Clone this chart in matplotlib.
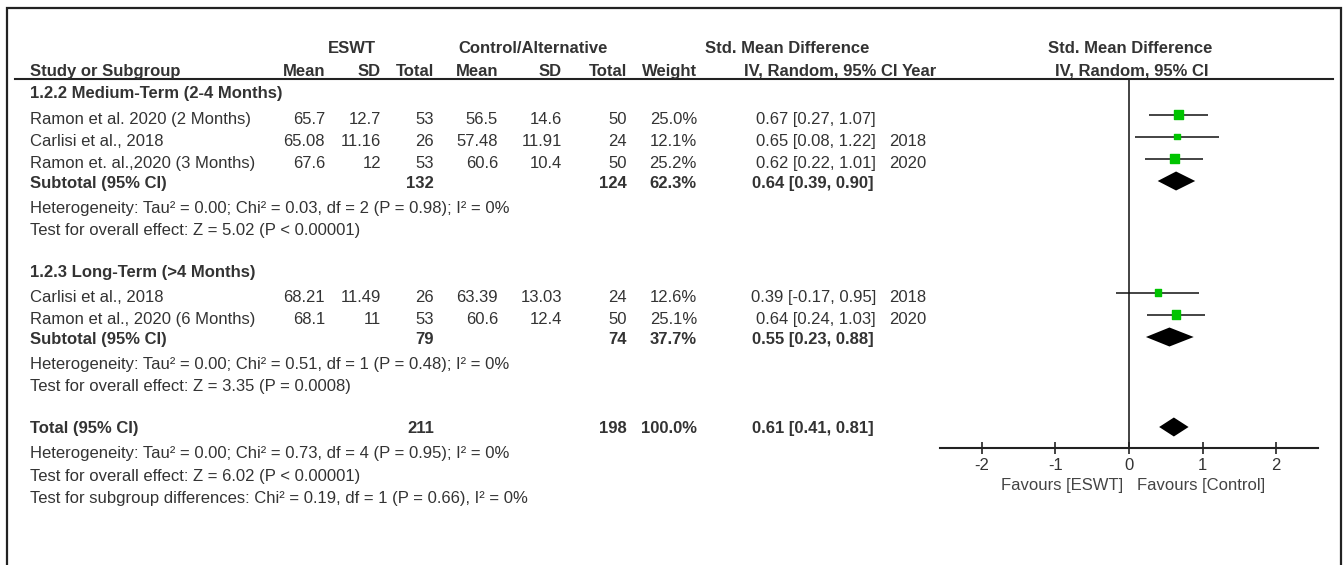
import matplotlib
matplotlib.use('Agg')
import matplotlib.pyplot as plt

plt.rcParams['font.family'] = ['Liberation Sans', 'DejaVu Sans']

# ---- data ----
studies = ['Ramon et al. 2020 (2 Months)', 'Carlisi et al., 2018', 'Ramon et. al.,2020 (3 Months)',
           'Carlisi et al., 2018', 'Ramon et al., 2020 (6 Months)']
group = [0, 0, 0, 1, 1]
e_mean = [65.7, 65.08, 67.6, 68.21, 68.1]
e_sd = [12.7, 11.16, 12, 11.49, 11]
e_n = [53, 26, 53, 26, 53]
c_mean = [56.5, 57.48, 60.6, 63.39, 60.6]
c_sd = [14.6, 11.91, 10.4, 13.03, 12.4]
c_n = [50, 24, 50, 24, 50]
weight = [25.0, 12.1, 25.2, 12.6, 25.1]
smd = [0.67, 0.65, 0.62, 0.39, 0.64]
smd_lo = [0.27, 0.08, 0.22, -0.17, 0.24]
smd_hi = [1.07, 1.22, 1.01, 0.95, 1.03]
year = ['', '2018', '2020', '2018', '2020']

subgroups = ['1.2.2 Medium-Term (2-4 Months)', '1.2.3 Long-Term (>4 Months)']
sub_e_n = [132, 79]
sub_c_n = [124, 74]
sub_w = [62.3, 37.7]
sub_smd = [0.64, 0.55]
sub_lo = [0.39, 0.23]
sub_hi = [0.90, 0.88]
sub_het = ['Heterogeneity: Tau² = 0.00; Chi² = 0.03, df = 2 (P = 0.98); I² = 0%',
           'Heterogeneity: Tau² = 0.00; Chi² = 0.51, df = 1 (P = 0.48); I² = 0%']
sub_z = ['Test for overall effect: Z = 5.02 (P < 0.00001)',
         'Test for overall effect: Z = 3.35 (P = 0.0008)']

tot_e_n, tot_c_n, tot_w = 211, 198, 100.0
tot_smd, tot_lo, tot_hi = 0.61, 0.41, 0.81
tot_notes = ['Heterogeneity: Tau² = 0.00; Chi² = 0.73, df = 4 (P = 0.95); I² = 0%',
             'Test for overall effect: Z = 6.02 (P < 0.00001)',
             'Test for subgroup differences: Chi² = 0.19, df = 1 (P = 0.66), I² = 0%']

xticks = [-2, -1, 0, 1, 2]
fav_left, fav_right = 'Favours [ESWT]', 'Favours [Control]'

# ---- layout (pixels) ----
W, H = 1343, 565
TXT = '#333333'
FS = 12
# right edges of numeric columns
X_STUDY, X_EM, X_ESD, X_EN, X_CM, X_CSD, X_CN, X_W, X_CI, X_YR = 30, 325, 381, 434, 498, 562, 627, 697, 876, 926
study_base = [124, 146, 168, 302, 324]
head_base = [98, 277]
sub_base = [188, 344]
het_base = [213, 369]
z_base = [235, 391]
tot_base = 433
tot_note_base = [458, 481, 503]
FX0, FX1, FY0, FY1 = 940, 1318, 79, 448   # forest panel box
XLIM = 2.57

fig = plt.figure(figsize=(W / 100, H / 100), dpi=100)
bg = fig.add_axes([0, 0, 1, 1])
bg.set_xlim(0, W); bg.set_ylim(H, 0); bg.axis('off')


def t(x, y, s, ha='right', bold=False, color=TXT):
    bg.text(x, y, s, ha=ha, va='baseline', fontsize=FS, color=color,
            fontweight='bold' if bold else 'normal')


# frame and header rule
bg.plot([7, 7, 1341, 1341], [H + 5, 8, 8, H + 5], color='#222222', lw=1.6, solid_joinstyle='miter')
bg.plot([15, 1333], [79, 79], color='#222222', lw=1.5)

# headers
t(352, 53, 'ESWT', ha='center', bold=True)
t(533, 53, 'Control/Alternative', ha='center', bold=True)
t(787, 53, 'Std. Mean Difference', ha='center', bold=True)
t(1130, 53, 'Std. Mean Difference', ha='center', bold=True)
t(X_STUDY, 76, 'Study or Subgroup', ha='left', bold=True)
for x, s in [(X_EM, 'Mean'), (X_ESD, 'SD'), (X_EN, 'Total'), (X_CM, 'Mean'),
             (X_CSD, 'SD'), (X_CN, 'Total'), (X_W, 'Weight'), (898, 'IV, Random, 95% CI')]:
    t(x, 76, s, bold=True)
t(902, 76, 'Year', ha='left', bold=True)
t(1132, 76, 'IV, Random, 95% CI', ha='center', bold=True)

# study rows
for i, s in enumerate(studies):
    y = study_base[i]
    t(X_STUDY, y, s, ha='left')
    t(X_EM, y, str(e_mean[i])); t(X_ESD, y, str(e_sd[i])); t(X_EN, y, str(e_n[i]))
    t(X_CM, y, str(c_mean[i])); t(X_CSD, y, str(c_sd[i])); t(X_CN, y, str(c_n[i]))
    t(X_W, y, f'{weight[i]:.1f}%')
    t(X_CI, y, f'{smd[i]:.2f} [{smd_lo[i]:.2f}, {smd_hi[i]:.2f}]')
    t(X_YR, y, year[i])

for g in range(2):
    t(X_STUDY, head_base[g], subgroups[g], ha='left', bold=True)
    y = sub_base[g]
    t(X_STUDY, y, 'Subtotal (95% CI)', ha='left', bold=True)
    t(X_EN, y, str(sub_e_n[g]), bold=True)
    t(X_CN, y, str(sub_c_n[g]), bold=True)
    t(X_W, y, f'{sub_w[g]:.1f}%', bold=True)
    t(X_CI - 2, y, f'{sub_smd[g]:.2f} [{sub_lo[g]:.2f}, {sub_hi[g]:.2f}]', bold=True)
    t(X_STUDY, het_base[g], sub_het[g], ha='left')
    t(X_STUDY, z_base[g], sub_z[g], ha='left')

t(X_STUDY, tot_base, 'Total (95% CI)', ha='left', bold=True)
t(X_EN, tot_base, str(tot_e_n), bold=True)
t(X_CN, tot_base, str(tot_c_n), bold=True)
t(X_W, tot_base, f'{tot_w:.1f}%', bold=True)
t(X_CI - 2, tot_base, f'{tot_smd:.2f} [{tot_lo:.2f}, {tot_hi:.2f}]', bold=True)
for y, s in zip(tot_note_base, tot_notes):
    t(X_STUDY, y, s, ha='left')

t(1123, 490, fav_left, color='#444444')
t(1137, 490, fav_right, ha='left', color='#444444')

# ---- forest panel ----
ax = fig.add_axes([FX0 / W, (H - FY1) / H, (FX1 - FX0) / W, (FY1 - FY0) / H])
ax.set_xlim(-XLIM, XLIM)
ax.set_ylim(FY1, FY0)
ax.patch.set_alpha(0)
for sp in ['top', 'left', 'right']:
    ax.spines[sp].set_visible(False)
ax.spines['bottom'].set_color('#222222')
ax.spines['bottom'].set_linewidth(1.5)
ax.set_yticks([])
ax.set_xticks(xticks)
ax.set_xticklabels([str(v) for v in xticks])
ax.tick_params(axis='x', direction='inout', length=8, width=1.2, colors='#222222',
               labelsize=FS, labelcolor=TXT, pad=3)
ax.axvline(0, color='#222222', lw=1.2)

mk_y = [b - 9.5 for b in study_base]
ax.hlines(mk_y, smd_lo, smd_hi, color='#111111', lw=1.1)
ax.scatter(smd, mk_y, s=[38 * w / 25 for w in weight], marker='s', color='#00c400', zorder=3)


def diamond(est, lo, hi, y, h=9.5):
    ax.fill([lo, est, hi, est], [y, y - h, y, y + h], color='black', lw=0, zorder=3)


for g in range(2):
    diamond(sub_smd[g], sub_lo[g], sub_hi[g], sub_base[g] - 7)
diamond(tot_smd, tot_lo, tot_hi, tot_base - 6)

fig.savefig('out.png', dpi=100)
